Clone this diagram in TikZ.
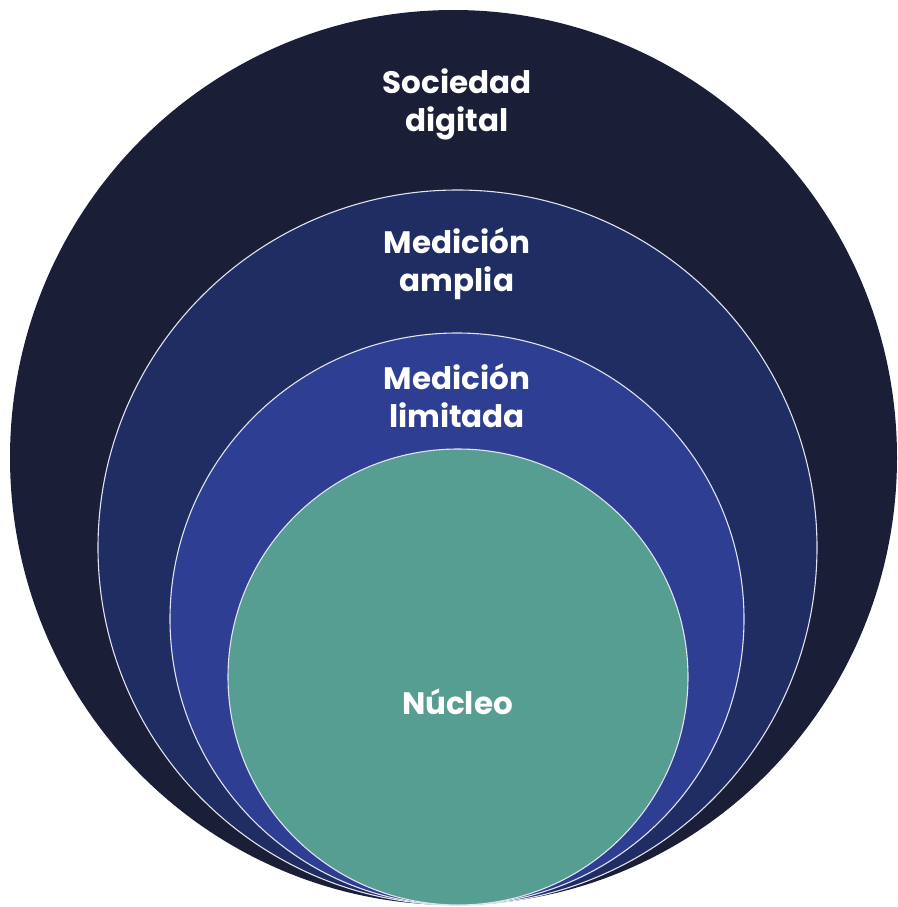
\documentclass[tikz,border=0pt]{standalone}
\usepackage{fontspec}
\setmainfont{Poppins}
\usepackage{tikz}
\usetikzlibrary{positioning}

\definecolor{societyblue}{HTML}{1B1E37}
\definecolor{wideblue}{HTML}{1F2D63}
\definecolor{limitblue}{HTML}{2E3F93}
\definecolor{coreteal}{HTML}{579E92}

\begin{document}
\begin{tikzpicture}[x=1pt,y=-1pt,
	ring/.style={draw=white!85!limitblue,line width=1.1pt},
	lbl/.style={text=white,align=center,font=\bfseries\fontsize{31}{38}\selectfont}]
		\useasboundingbox (0,0) rectangle (897,907);
		% rings, from outside in
		\fill[societyblue] (453.5,457.5) ellipse [x radius=443.5,y radius=447.5];
		\filldraw[wideblue,ring] (457.5,547.5) ellipse [x radius=359.5,y radius=357.5];
		\filldraw[limitblue,ring] (457,619) ellipse [x radius=287,y radius=286];
		\filldraw[coreteal,ring] (458,677) ellipse [x radius=230,y radius=228];
		% labels
		\node[lbl] (society) at (457,104) {Sociedad\\digital};
		\node[lbl] (wide) at (457,264) {Medición\\amplia};
		\node[lbl] (limited) at (457,396) {Medición\\limitada};
		\node[lbl] (core) at (457.5,702) {Núcleo};
	\end{tikzpicture}
\end{document}
